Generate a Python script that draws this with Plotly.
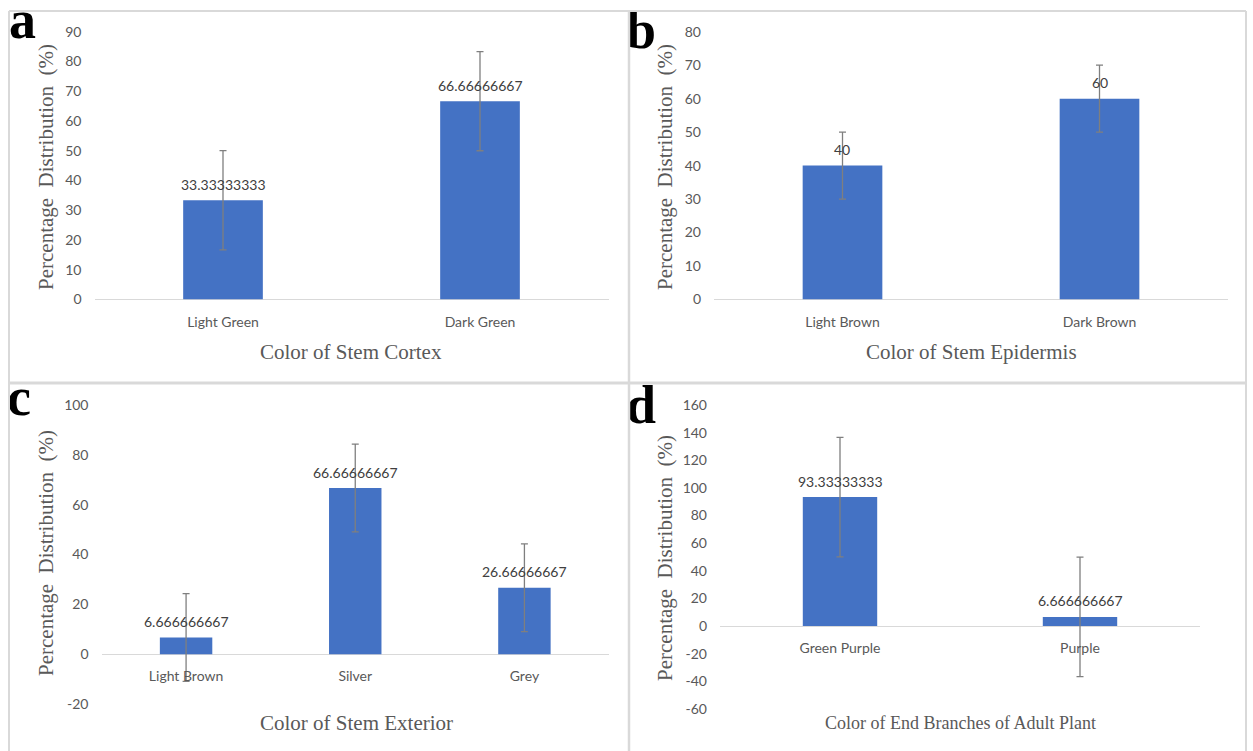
import plotly.graph_objects as go

# ---------------- data ----------------
a_cats = ["Light Green", "Dark Green"]
a_vals = [33.33333333, 66.66666667]
a_err = [16.67, 16.67]

b_cats = ["Light Brown", "Dark Brown"]
b_vals = [40, 60]
b_err = [10, 10]

c_cats = ["Light Brown", "Silver", "Grey"]
c_vals = [6.666666667, 66.66666667, 26.66666667]
c_err = [17.6, 17.6, 17.6]

d_cats = ["Green Purple", "Purple"]
d_vals = [93.33333333, 6.666666667]
d_err = [43.3, 43.3]

x_titles = ["Color of Stem Cortex", "Color of Stem Epidermis",
            "Color of Stem Exterior", "Color of End Branches of Adult Plant"]
y_title = "Percentage  Distribution  (%)"
letters = ["a", "b", "c", "d"]

# ---------------- layout helpers ----------------
W, H = 1253, 751
def px(x): return x / W
def py(y): return 1 - y / H

BAR = "#4472C4"
TICK = "#595959"
LAB = "#404040"
SANS = "Lato, Calibri, sans-serif"
SERIF = "Liberation Serif, Times New Roman, serif"

panels = [
    dict(c=a_cats, v=a_vals, e=a_err, xd=(94.5, 608.5), yd=(31.7, 299.5), yr=(0, 90), dt=10),
    dict(c=b_cats, v=b_vals, e=b_err, xd=(714, 1228), yd=(31.7, 299.5), yr=(0, 80), dt=10),
    dict(c=c_cats, v=c_vals, e=c_err, xd=(101.5, 609), yd=(405, 704), yr=(-20, 100), dt=20),
    dict(c=d_cats, v=d_vals, e=d_err, xd=(720, 1200), yd=(405, 709), yr=(-60, 160), dt=20),
]

fig = go.Figure()
annotations = []
layout = {}

for i, p in enumerate(panels):
    n = i + 1
    xa = "x" if n == 1 else f"x{n}"
    ya = "y" if n == 1 else f"y{n}"
    fig.add_trace(go.Bar(
        x=p["c"], y=p["v"], xaxis=xa, yaxis=ya,
        marker=dict(color=BAR, line=dict(width=0)),
        width=0.31,
        error_y=dict(type="data", array=p["e"], visible=True,
                     color="#7F7F7F", thickness=1.3, width=3.5),
        showlegend=False, hoverinfo="x+y",
    ))
    ymin, ymax = p["yr"]
    ydom = (py(p["yd"][1]), py(p["yd"][0]))
    zero_pos = ydom[0] + (0 - ymin) / (ymax - ymin) * (ydom[1] - ydom[0])
    tv = list(range(ymin, ymax + 1, p["dt"]))
    layout[f"xaxis{'' if n == 1 else n}"] = dict(
        domain=[px(p["xd"][0]), px(p["xd"][1])],
        anchor="free", position=zero_pos, automargin=False,
        showline=False, showgrid=False, zeroline=False,
        ticks="", ticklabelstandoff=12,
        tickfont=dict(family=SANS, size=14, color=TICK),
        fixedrange=True,
    )
    layout[f"yaxis{'' if n == 1 else n}"] = dict(
        domain=list(ydom), anchor=xa, range=[ymin, ymax],
        tickmode="array", tickvals=tv, ticktext=[str(v) for v in tv],
        automargin=False,
        showgrid=False, showline=False, zeroline=True,
        zerolinecolor="#D9D9D9", zerolinewidth=1.3,
        ticks="", ticklabelstandoff=12,
        tickfont=dict(family=SANS, size=14, color=TICK),
        fixedrange=True,
    )
    for cat, val in zip(p["c"], p["v"]):
        annotations.append(dict(
            xref=xa, yref=ya, x=cat, y=val, text=f"{val:.10g}",
            showarrow=False, yanchor="middle", yshift=16,
            font=dict(family=SANS, size=14, color=LAB),
        ))

xt_pos = [(351, 352, 21), (971, 352, 21), (356, 723, 21), (960, 723, 18)]
for t, (x, y, s) in zip(x_titles, xt_pos):
    annotations.append(dict(xref="paper", yref="paper", x=px(x), y=py(y),
                            text=t, showarrow=False, xanchor="center", yanchor="middle",
                            font=dict(family=SERIF, size=s, color=TICK)))
yt_pos = [(46, 167), (665, 167), (46, 553), (665, 558)]
for x, y in yt_pos:
    annotations.append(dict(xref="paper", yref="paper", x=px(x), y=py(y),
                            text=y_title, textangle=-90, showarrow=False,
                            xanchor="center", yanchor="middle",
                            font=dict(family=SERIF, size=21, color=TICK)))

# panel letters: text trace on an invisible full-figure overlay axis (pixel units)
lt_x = [9, 626, 7, 626]
lt_y = [24, 34, 401, 409]
fig.add_trace(go.Scatter(
    x=lt_x, y=lt_y, text=[f"<b>{l}</b>" for l in letters], mode="text",
    textposition="middle right", cliponaxis=False,
    textfont=dict(family=SERIF, size=54, color="black"),
    xaxis="x5", yaxis="y5", showlegend=False, hoverinfo="skip",
))
layout["xaxis5"] = dict(domain=[0, 1], range=[0, W], visible=False, fixedrange=True,
                        automargin=False, anchor="y5")
layout["yaxis5"] = dict(domain=[0, 1], range=[H, 0], visible=False, fixedrange=True,
                        automargin=False, anchor="x5")

shapes = [
    dict(type="line", xref="paper", yref="paper", x0=px(9), x1=px(1246), y0=py(11), y1=py(11),
         line=dict(color="#D9D9D9", width=2)),
    dict(type="line", xref="paper", yref="paper", x0=px(9), x1=px(9), y0=0, y1=py(11),
         line=dict(color="#D9D9D9", width=2)),
    dict(type="line", xref="paper", yref="paper", x0=px(1246), x1=px(1246), y0=0, y1=py(11),
         line=dict(color="#D9D9D9", width=2)),
    dict(type="line", xref="paper", yref="paper", x0=px(629), x1=px(629), y0=0, y1=py(11),
         line=dict(color="#D9D9D9", width=2.5)),
    dict(type="line", xref="paper", yref="paper", x0=px(9), x1=px(1246), y0=py(383), y1=py(383),
         line=dict(color="#D9D9D9", width=3)),
]

fig.update_layout(
    width=W, height=H, margin=dict(l=0, r=0, t=0, b=0, pad=0),
    paper_bgcolor="white", plot_bgcolor="rgba(0,0,0,0)",
    annotations=annotations, shapes=shapes, bargap=0.69,
    **layout,
)

fig.write_html("out.html", post_script="document.body.style.margin='0';",
               config={"displayModeBar": False})
